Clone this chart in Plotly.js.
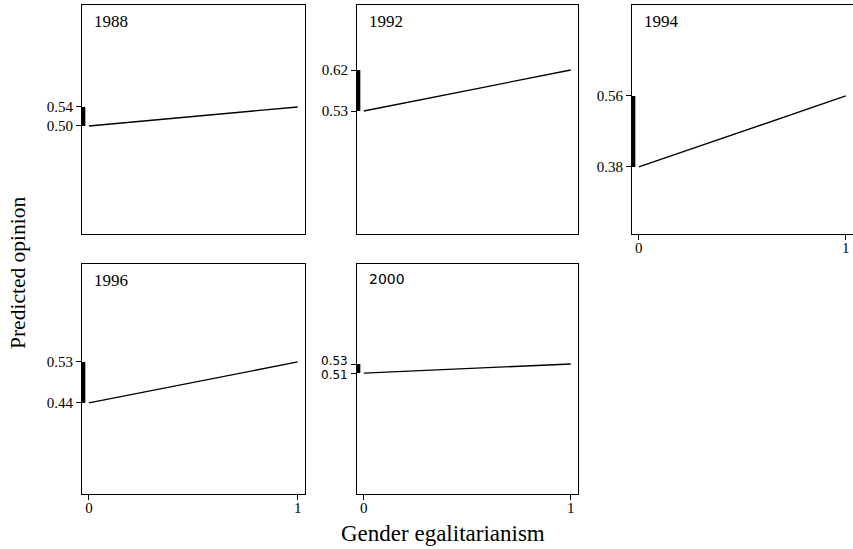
<!DOCTYPE html>
<html>
<head>
<meta charset="utf-8">
<script src="https://cdn.plot.ly/plotly-3.0.1.min.js"></script>
<style>html,body{margin:0;padding:0;background:#fff;}</style>
</head>
<body>
<div id="chart" style="width:853px;height:549px;"></div>
<script>
// ---- data ----
const years = ['1988', '1992', '1994', '1996', '2000'];
const egalitarianism = [0, 1];
const opinion1988 = [0.50, 0.54];
const opinion1992 = [0.53, 0.62];
const opinion1994 = [0.38, 0.56];
const opinion1996 = [0.44, 0.53];
const opinion2000 = [0.51, 0.53];
const xTickVals = [0, 1];
const xTickText = ['0', '1'];

const series = [opinion1988, opinion1992, opinion1994, opinion1996, opinion2000];

// ---- layout geometry (pixels) ----
const W = 853, H = 549;
const panels = [
  {x0: 82, x1: 305, y0: 5,   y1: 234, yr: [0.2726, 0.7547], xticks: false},
  {x0: 357, x1: 578, y0: 5,  y1: 234, yr: [0.26, 0.7627], xticks: false},
  {x0: 632, x1: 853, y0: 5,  y1: 234, yr: [0.21, 0.7907], xticks: true},
  {x0: 82, x1: 305, y0: 264, y1: 494, yr: [0.24, 0.745], xticks: true},
  {x0: 357, x1: 578, y0: 264, y1: 494, yr: [0.244, 0.75], xticks: true}
];

const serif = 'Liberation Serif, Times New Roman, serif';
const sans = 'DejaVu Sans, Verdana, sans-serif';

const traces = [];
const layout = {
  width: W, height: H,
  margin: {l: 0, r: 0, t: 0, b: 0},
  paper_bgcolor: '#fff', plot_bgcolor: '#fff',
  showlegend: false,
  font: {family: serif, color: '#000', size: 15},
  shapes: [],
  annotations: []
};

series.forEach((vals, i) => {
  const p = panels[i];
  const n = i === 0 ? '' : String(i + 1);
  const small = years[i] === '2000';
  traces.push({
    type: 'scatter', mode: 'lines',
    x: egalitarianism, y: vals,
    xaxis: 'x' + n, yaxis: 'y' + n,
    line: {color: '#000', width: 1.3},
    hoverinfo: 'skip'
  });
  layout['xaxis' + n] = {
    domain: [p.x0 / W, p.x1 / W],
    anchor: 'y' + n,
    range: [-0.033, 1.035],
    showgrid: false, zeroline: false,
    showline: true, mirror: true, linecolor: '#000', linewidth: 1,
    tickmode: 'array', tickvals: p.xticks ? xTickVals : [], ticktext: xTickText,
    ticks: p.xticks ? 'outside' : '', ticklen: 5, tickwidth: 1, tickcolor: '#000',
    ticklabelstandoff: -5,
    showticklabels: p.xticks,
    tickfont: {family: serif, size: 15, color: '#000'},
    fixedrange: true
  };
  layout['yaxis' + n] = {
    domain: [1 - p.y1 / H, 1 - p.y0 / H],
    anchor: 'x' + n,
    range: p.yr,
    showgrid: false, zeroline: false,
    showline: true, mirror: true, linecolor: '#000', linewidth: 1,
    tickmode: 'array', tickvals: vals,
    ticktext: small ? vals.map(() => '') : vals.map(v => v.toFixed(2)),
    ticks: 'outside', ticklen: 5, tickwidth: 1, tickcolor: '#000',
    tickfont: {family: serif, size: 15, color: '#000'},
    fixedrange: true
  };
  if (small) {
    // close values: labels nudged apart so they do not overlap
    vals.forEach((v, k) => {
      layout.annotations.push({
        text: v.toFixed(2), showarrow: false,
        xref: 'x' + n + ' domain', yref: 'y' + n,
        x: 0, y: v, xanchor: 'right', yanchor: 'middle',
        xshift: -7, yshift: k === 0 ? -2 : 3,
        font: {family: sans, size: 12, color: '#000'}
      });
    });
  }
  // range-frame bar on the y axis, spanning the predicted values
  layout.shapes.push({
    type: 'line', xref: 'x' + n + ' domain', yref: 'y' + n,
    x0: 0.006, x1: 0.006, y0: Math.min(...vals), y1: Math.max(...vals),
    line: {color: '#000', width: 4}
  });
  layout.annotations.push({
    text: years[i], showarrow: false,
    xref: 'x' + n + ' domain', yref: 'y' + n + ' domain',
    x: 0.045, y: 0.98, xanchor: 'left', yanchor: 'top',
    font: small ? {family: sans, size: 14, color: '#000'} : {family: serif, size: 17, color: '#000'}
  });
});

layout.annotations.push({
  text: 'Predicted opinion', showarrow: false, textangle: -90,
  xref: 'paper', yref: 'paper', x: 18 / W, y: 1 - 273 / H,
  xanchor: 'center', yanchor: 'middle',
  font: {family: serif, size: 21.5, color: '#000'}
});
layout.annotations.push({
  text: 'Gender egalitarianism', showarrow: false,
  xref: 'paper', yref: 'paper', x: 443 / W, y: 1 - 533 / H,
  xanchor: 'center', yanchor: 'middle',
  font: {family: serif, size: 23, color: '#000'}
});

Plotly.newPlot('chart', traces, layout, {staticPlot: true, displayModeBar: false});
</script>
</body>
</html>
